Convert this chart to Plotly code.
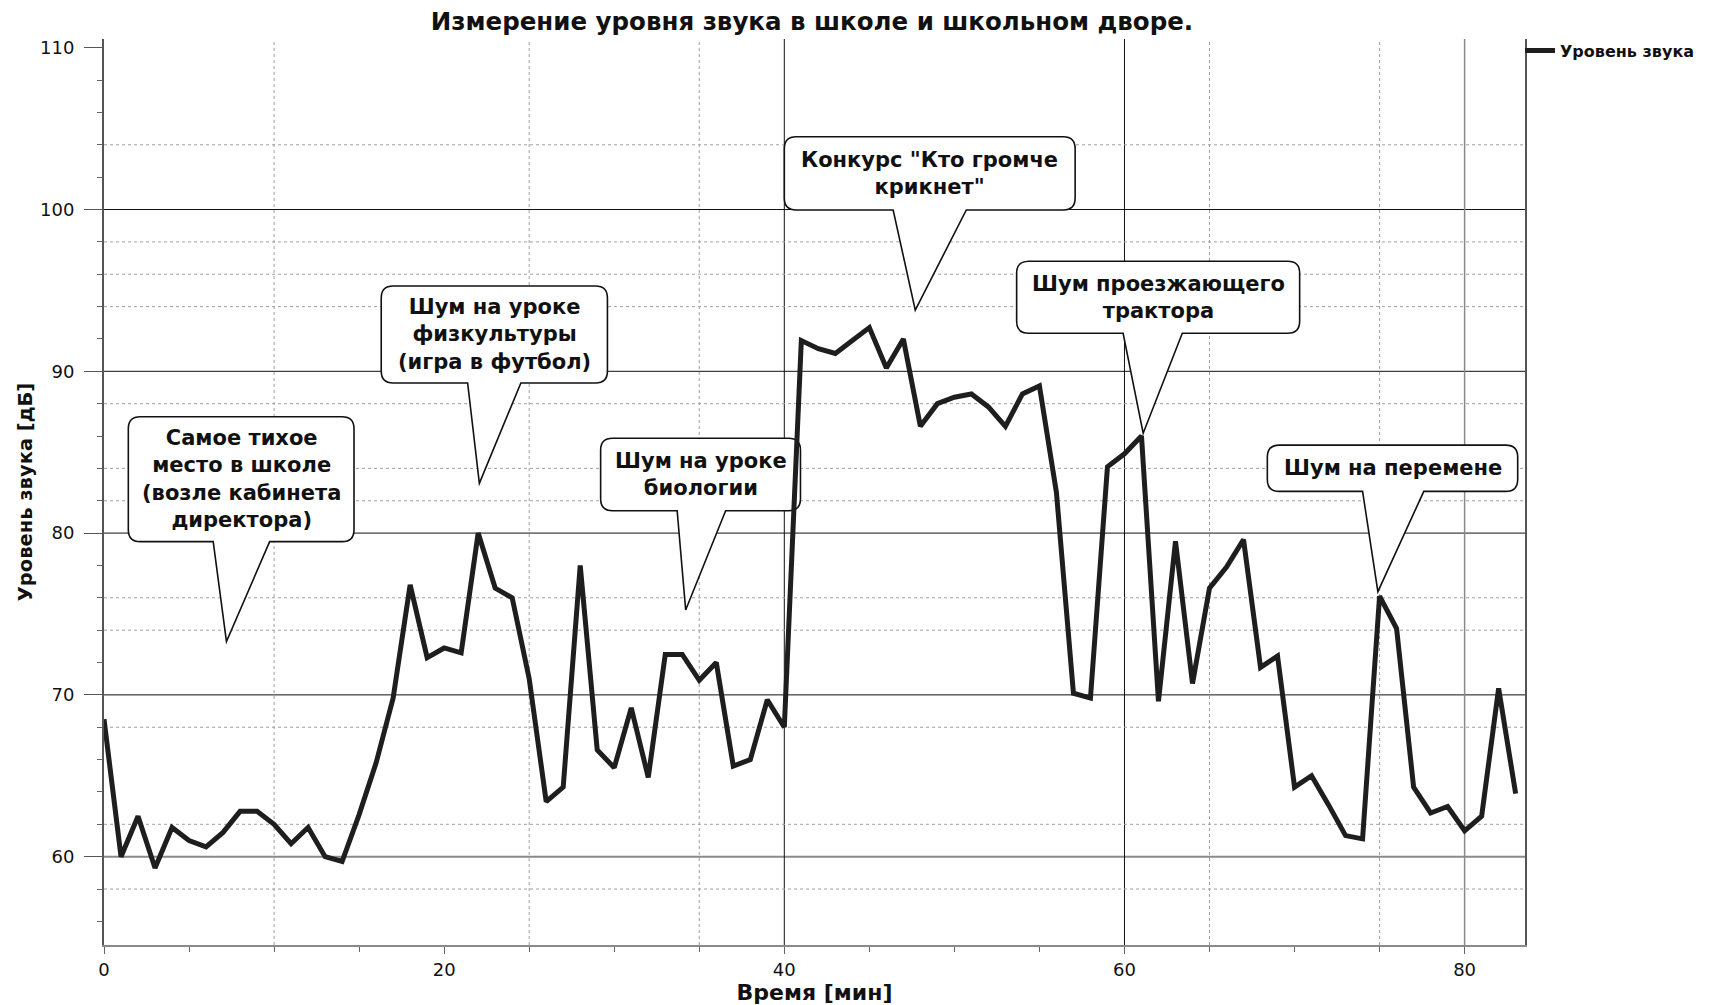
import plotly.graph_objects as go

# ---------------- data ----------------
minutes = list(range(0, 84))
sound_db = [
    68.5, 60.0, 62.5, 59.3, 61.8, 61.0, 60.6, 61.5, 62.8, 62.8,
    62.0, 60.8, 61.8, 60.0, 59.7, 62.6, 65.8, 69.8, 76.8, 72.3,
    72.9, 72.6, 80.0, 76.6, 76.0, 71.0, 63.4, 64.3, 78.0, 66.6,
    65.5, 69.2, 64.9, 72.5, 72.5, 70.9, 72.0, 65.6, 66.0, 69.7,
    68.0, 91.9, 91.4, 91.1, 91.9, 92.7, 90.2, 92.0, 86.6, 88.0,
    88.4, 88.6, 87.8, 86.6, 88.6, 89.1, 82.5, 70.1, 69.8, 84.1,
    84.9, 86.0, 69.6, 79.5, 70.7, 76.6, 77.9, 79.6, 71.7, 72.4,
    64.3, 65.0, 63.2, 61.3, 61.1, 76.1, 74.1, 64.3, 62.7, 63.1,
    61.6, 62.5, 70.4, 63.9,
]
series_name = "Уровень звука"
title_text = "Измерение уровня звука в школе и школьном дворе."
x_title = "Время [мин]"
y_title = "Уровень звука [дБ]"

# callout texts
callout_texts = [
    "Самое тихое<br>место в школе<br>(возле кабинета<br>директора)",
    "Шум на уроке<br>физкультуры<br>(игра в футбол)",
    "Шум на уроке<br>биологии",
    "Конкурс \"Кто громче<br>крикнет\"",
    "Шум проезжающего<br>трактора",
    "Шум на перемене",
]

# ---------------- layout config (positions / styles) ----------------
# box: (x_left, x_right, y_bottom, y_top), wedge base (x_l, x_r), tip (x, y)
callout_geom = [
    dict(box=(1.43, 14.70, 79.47, 87.19), wedge=(6.42, 9.74), tip=(7.20, 73.30)),
    dict(box=(16.30, 29.60, 89.28, 95.27), wedge=(21.38, 24.51), tip=(22.07, 83.08)),
    dict(box=(29.20, 40.95, 81.38, 85.86), wedge=(33.70, 36.55), tip=(34.20, 75.25)),
    dict(box=(40.00, 57.10, 99.97, 104.50), wedge=(46.40, 50.70), tip=(47.70, 93.78)),
    dict(box=(53.66, 70.30, 92.35, 96.80), wedge=(59.92, 63.40), tip=(61.10, 86.17)),
    dict(box=(68.40, 83.12, 82.58, 85.44), wedge=(74.00, 77.60), tip=(74.90, 76.38)),
]
RX, RY = 0.70, 0.74

solid_h = [(60, "#8a8a8a", 2), (70, "#111", 1), (80, "#111", 1), (90, "#111", 1), (100, "#111", 1)]
solid_v = [(40, "#111", 1), (60, "#111", 1), (80, "#8a8a8a", 1.5)]
dotted_h = [104, 98, 96, 94, 88, 84, 82, 76, 74, 68, 62, 58]
dotted_v = [10, 25, 35, 65, 75]

FONT = "DejaVu Sans, Verdana, sans-serif"

# page body has an 8px margin: size the figure so it sits where the reference is
OFF = 8
W, H = 1712 - OFF, 1005 - OFF

fig = go.Figure()
fig.add_trace(go.Scatter(
    x=minutes, y=sound_db, mode="lines", name=series_name,
    line=dict(color="#1e1e1e", width=5),
    showlegend=True,
))

shapes = []
for y, c, w in solid_h:
    shapes.append(dict(type="line", xref="x domain", yref="y", x0=0, x1=1, y0=y, y1=y,
                       line=dict(color=c, width=w), layer="below"))
for x, c, w in solid_v:
    shapes.append(dict(type="line", xref="x", yref="y domain", x0=x, x1=x, y0=0, y1=1,
                       line=dict(color=c, width=w), layer="below"))
for y in dotted_h:
    shapes.append(dict(type="line", xref="x domain", yref="y", x0=0, x1=1, y0=y, y1=y,
                       line=dict(color="#a0a0a0", width=1, dash="dot"), layer="below"))
for x in dotted_v:
    shapes.append(dict(type="line", xref="x", yref="y domain", x0=x, x1=x, y0=0, y1=1,
                       line=dict(color="#a0a0a0", width=1, dash="dot"), layer="below"))

annotations = []
for g, txt in zip(callout_geom, callout_texts):
    x0, x1, y0, y1 = g["box"]
    wl, wr = g["wedge"]
    tx, ty = g["tip"]
    path = (f"M {x0+RX},{y1} L {x1-RX},{y1} Q {x1},{y1} {x1},{y1-RY} "
            f"L {x1},{y0+RY} Q {x1},{y0} {x1-RX},{y0} L {wr},{y0} L {tx},{ty} L {wl},{y0} "
            f"L {x0+RX},{y0} Q {x0},{y0} {x0},{y0+RY} L {x0},{y1-RY} Q {x0},{y1} {x0+RX},{y1} Z")
    shapes.append(dict(type="path", xref="x", yref="y", path=path,
                       fillcolor="white", line=dict(color="#111", width=1.6), layer="below"))
    annotations.append(dict(x=(x0 + x1) / 2, y=(y0 + y1) / 2, xref="x", yref="y",
                            text=f"<b>{txt}</b>", showarrow=False, align="center",
                            font=dict(family=FONT, size=21, color="#111")))

fig.update_layout(
    width=W, height=H,
    margin=dict(l=104 - OFF, r=W - (1528 - OFF), t=39 - OFF, b=H - (945 - OFF)),
    paper_bgcolor="white", plot_bgcolor="white",
    title=dict(text=f"<b>{title_text}</b>", x=(812 - OFF) / W, xanchor="center",
               y=1 - 5 / H, yanchor="top", yref="container",
               font=dict(family=FONT, size=24.5, color="#111")),
    showlegend=True,
    legend=dict(x=0.9965, y=1.006, xanchor="left", yanchor="top",
                font=dict(family=FONT, size=16, color="#111", weight="bold"),
                itemwidth=30, bgcolor="rgba(0,0,0,0)", borderwidth=0),
    shapes=shapes,
    annotations=annotations,
    xaxis=dict(
        range=[0, 83.55], tickmode="linear", tick0=0, dtick=20,
        showgrid=False, zeroline=False,
        showline=True, linecolor="#8a8a8a", linewidth=2,
        ticks="outside", ticklen=7, tickcolor="#666",
        tickfont=dict(family=FONT, size=18, color="#111"),
        minor=dict(dtick=5, ticks="outside", ticklen=5, tickcolor="#666", showgrid=False),
        title=dict(text=f"<b>{x_title}</b>", standoff=12,
                   font=dict(family=FONT, size=22, color="#111")),
        automargin=False,
    ),
    yaxis=dict(
        range=[54.54, 110.54], tickmode="linear", tick0=60, dtick=10,
        showgrid=False, zeroline=False,
        showline=True, linecolor="#555", linewidth=2, mirror=True,
        ticks="outside", ticklen=18, tickcolor="#555",
        ticklabelstandoff=6,
        tickfont=dict(family=FONT, size=18, color="#111"),
        minor=dict(dtick=2, ticks="outside", ticklen=5, tickcolor="#666", showgrid=False),
        title=dict(text=f"<b>{y_title}</b>", standoff=2,
                   font=dict(family=FONT, size=19.5, color="#111")),
        automargin=False,
    ),
)

fig.write_html("out.html")
